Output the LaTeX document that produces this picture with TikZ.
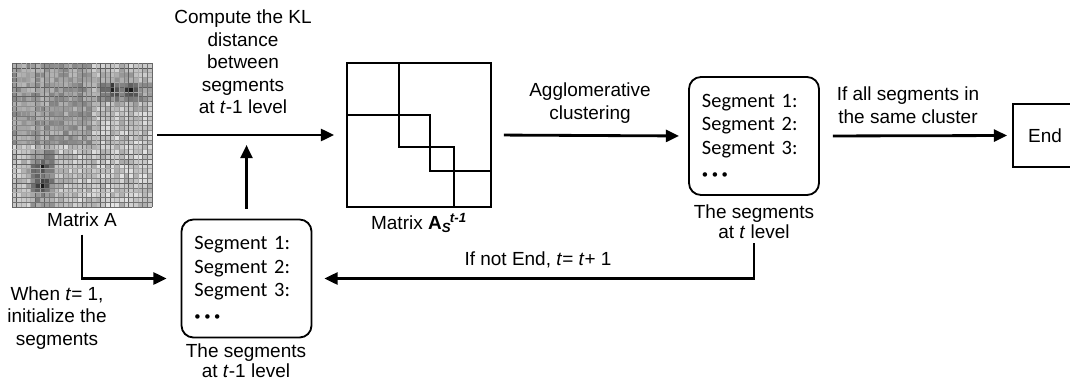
\documentclass[tikz,border=0pt]{standalone}
\usepackage{fontspec}
\setmainfont{Liberation Sans}
\newfontfamily\segfont{Carlito}
\usetikzlibrary{arrows.meta,positioning,calc}

\newcommand{\segdots}{{\fontsize{9}{9}\selectfont\textbullet\hspace{2.5pt}\textbullet\hspace{2.5pt}\textbullet}}

\tikzset{
  lbl/.style={font=\fontsize{13.5}{16}\selectfont,align=center,inner sep=0pt},
  caplbl/.style={font=\fontsize{13.5}{14}\selectfont,align=center,inner sep=0pt},
  segbox/.style={draw,rounded corners=0.3cm,line width=1.3pt,minimum width=3.25cm,minimum height=2.95cm,
    text width=2.6cm,inner xsep=0.325cm,align=left,font=\segfont\fontsize{14.5}{16.8}\selectfont},
  flow/.style={-{Triangle[length=0.33cm,width=0.3cm]},line width=2pt},
}

\begin{document}
\begin{tikzpicture}[x=0.025cm,y=-0.025cm]
\clip (0,0) rectangle (1070,381);
% matrix A, drawn as a grey heat map
\node[minimum width=3.5cm,minimum height=3.6cm,inner sep=0pt] (matA) at (82,135) {};
\pgfmathsetseed{42}
\foreach \i in {0,...,29}{
  \foreach \j in {0,...,29}{
    \pgfmathsetmacro{\v}{min(90,ifthenelse(\i<17 && \j<17,26,10)+22*rnd
      +60/(1+0.9*((\i-5)^2+(\j-21)^2))+60/(1+0.9*((\i-5)^2+(\j-25)^2))
      +60/(1+0.9*((\j-6)^2+(\i-21)^2))+60/(1+0.9*((\j-6)^2+(\i-25)^2))
      +ifthenelse((\i>3 && \i<8 && \j>17) || (\j>3 && \j<9 && \i>17),12,0))}
    \fill[black!\v] (12+\j*4.6667,63+\i*4.8) rectangle ++(4.6667,4.8);
  }
}
\foreach \k in {0,...,30}{
  \pgfmathsetmacro{\g}{30+35*rnd}
  \draw[black!\g,line width=0.3pt] (12+\k*4.6667,63) -- ++(0,144);
  \draw[black!\g,line width=0.3pt] (12,63+\k*4.8) -- ++(140,0);
}
\node[lbl,below=0.12cm of matA] (lblA) {Matrix A};

% matrix A_S with its diagonal blocks
\node[draw,line width=1.3pt,minimum size=3.6cm,inner sep=0pt] (matS) at (419,135) {};
\draw[line width=1.3pt] (399,63) -- (399,147) -- (454,147) -- (454,207);
\draw[line width=1.3pt] (347,115) -- (430,115) -- (430,171) -- (491,171);
\node[lbl,below=0.12cm of matS] (lblS) {Matrix \textbf{A}\textsubscript{\textbf{\textit{S}}}\kern-1pt\textsuperscript{\textbf{\textit{t-1}}}};

\draw[flow,shorten <=0.125cm,shorten >=0.3cm] (matA.east) -- (matS.west);
\node[lbl] (kl) at (243,62) {Compute the KL\\distance\\between\\segments\\at \textit{t}-1 level};

% segments at level t
\node[segbox] (rbox) at (754,136) {Segment 1:\\Segment 2:\\Segment 3:\\\segdots};
\node[caplbl] (rcap) at (754,222) {The segments\\at \textit{t} level};
\draw[flow,shorten <=0.3cm,shorten >=0.225cm] (matS.east) -- (rbox.west);
\node[lbl] (aggl) at (590,103) {Agglomerative\\clustering};

\node[draw,line width=1.3pt,minimum width=1.6cm,minimum height=1.575cm,font=\fontsize{13.5}{16}\selectfont] (endbox) at (1045,135.5) {End};
\draw[flow,shorten <=0.325cm,shorten >=0.125cm] (rbox.east) -- (endbox.west);
\node[lbl] (allsame) at (908,105) {If all segments in\\the same cluster};

% segments at level t-1
\node[segbox] (lbox) at (246.5,278.5) {Segment 1:\\Segment 2:\\Segment 3:\\\segdots};
\node[caplbl] (lcap) at (246,361) {The segments\\at \textit{t}-1 level};
\draw[flow,shorten <=0.25cm,shorten >=0.25cm] (lbox.north) -- (lbox.north |- matA.east);

\draw[flow,shorten <=0.2cm,shorten >=0.35cm] (lblA.south) |- (lbox.west);
\node[lbl] (init) at (57,318) {When \textit{t}= 1,\\initialize the\\segments};

\draw[flow,shorten <=0.1cm,shorten >=0.3cm] (rcap.south) |- (lbox.east);
\node[lbl] (notend) at (538,260) {If not End, \textit{t}= \textit{t}+ 1};
\end{tikzpicture}
\end{document}
